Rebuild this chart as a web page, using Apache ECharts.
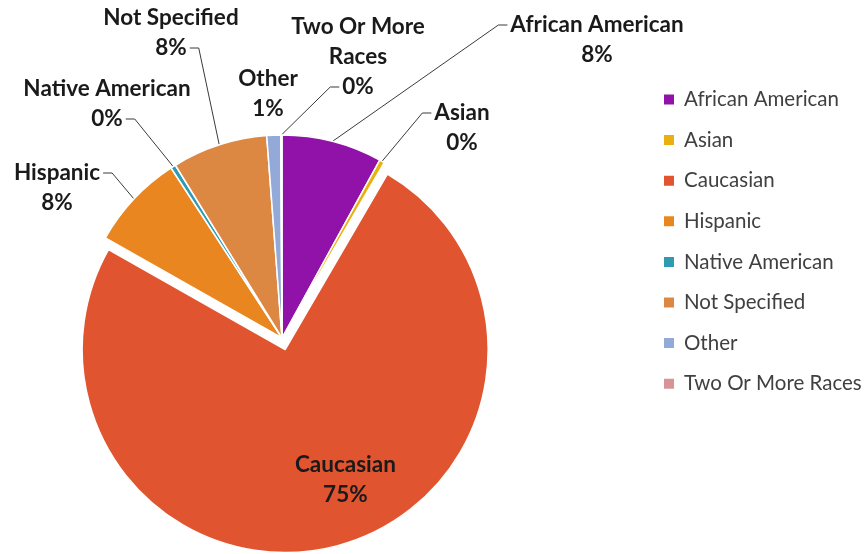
<!DOCTYPE html>
<html>
<head>
<meta charset="utf-8">
<script src="https://cdn.jsdelivr.net/npm/echarts@6/dist/echarts.min.js"></script>
<style>html,body{margin:0;padding:0;background:#fff;}#c{width:865px;height:554px;}</style>
</head>
<body>
<div id="c"></div>
<script>
const categories = ['African American','Asian','Caucasian','Hispanic','Native American','Not Specified','Other','Two Or More Races'];
const values = [8.0, 0.4, 74.8, 7.6, 0.4, 7.6, 1.1, 0.1];
const labelNames = ['African American','Asian','Caucasian','Hispanic','Native American','Not Specified','Other','Two Or More\nRaces'];
const colors = ['#9112A9','#E9B00F','#E0542F','#EA8620','#2F9AB1','#DC8842','#93AAD9','#D69498'];

// label layout (positions only): centre of label block, and which text row the leader attaches to
const labelPos = [[597,40],[462,128],null,[57,188],[107,104],[171,33],[268,94],[358,57]];
const leaderRow = [0, 0, -1, 0, 1, 1, -1, 2];

const FONT_SIZE = 22.5, LINE_H = 30, FONT_FAMILY = 'Lato';
const measureCtx = document.createElement('canvas').getContext('2d');
measureCtx.font = 'bold ' + FONT_SIZE + 'px ' + FONT_FAMILY;

function labelText(i, pct) { return labelNames[i] + '\n' + Math.round(pct) + '%'; }

const total = values.reduce(function (a, b) { return a + b; }, 0);

const chart = echarts.init(document.getElementById('c'));
chart.setOption({
  animation: false,
  legend: {
    orient: 'vertical',
    left: 657,
    top: 84,
    itemWidth: 12,
    itemHeight: 12,
    itemGap: 19.6,
    icon: 'rect',
    data: categories,
    textStyle: { fontFamily: 'Lato', fontSize: 20.5, color: '#404040', padding: [0, 0, 0, 4] }
  },
  series: [{
    type: 'pie',
    center: [282, 338],
    radius: 203,
    startAngle: 90,
    clockwise: true,
    selectedMode: 'single',
    selectedOffset: 12,
    avoidLabelOverlap: false,
    itemStyle: { borderColor: '#fff', borderWidth: 1.5 },
    label: {
      show: true,
      fontFamily: FONT_FAMILY,
      fontWeight: 'bold',
      fontSize: FONT_SIZE,
      lineHeight: LINE_H,
      color: '#1a1a1a',
      align: 'center',
      formatter: function (p) { return labelText(p.dataIndex, p.percent); }
    },
    labelLine: { show: true, length: 10, length2: 10, lineStyle: { color: '#3a3a3a', width: 1 } },
    labelLayout: function (params) {
      const i = params.dataIndex;
      const p = labelPos[i];
      if (!p) { return { dx: 33, dy: 29 }; }
      const out = { x: p[0], y: p[1], align: 'center', verticalAlign: 'middle' };
      const row = leaderRow[i];
      if (row >= 0 && params.labelLinePoints) {
        const lines = labelText(i, values[i] / total * 100).split('\n');
        const start = params.labelLinePoints[0];
        const rowY = p[1] - lines.length * LINE_H / 2 + LINE_H / 2 + row * LINE_H;
        const w = measureCtx.measureText(lines[row]).width;
        const side = start[0] < p[0] ? -1 : 1;
        const endX = p[0] + side * (w / 2 + 3);
        out.labelLinePoints = [[start[0], start[1]], [endX + side * 9, rowY], [endX, rowY]];
      }
      return out;
    },
    emphasis: { disabled: true },
    data: categories.map(function (c, i) {
      const d = { name: c, value: values[i], itemStyle: { color: colors[i] } };
      if (c === 'Caucasian') {
        d.selected = true;
        d.labelLine = { show: false };
        d.label = { position: 'inside' };
      }
      if (leaderRow[i] < 0 && c !== 'Caucasian') { d.labelLine = { show: false }; }
      return d;
    })
  }]
});
</script>
</body>
</html>
